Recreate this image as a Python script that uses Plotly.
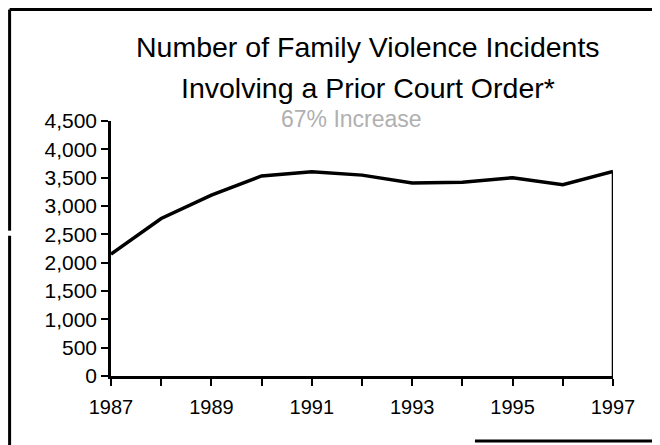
import plotly.graph_objects as go

years = [1987, 1988, 1989, 1990, 1991, 1992, 1993, 1994, 1995, 1996, 1997]
incidents = [2150, 2780, 3190, 3530, 3605, 3545, 3405, 3420, 3500, 3375, 3610]
year_labels = [str(y) if y % 2 == 1 else "" for y in years]
y_ticks = [0, 500, 1000, 1500, 2000, 2500, 3000, 3500, 4000, 4500]

title_1 = "Number of Family Violence Incidents"
title_2 = "Involving a Prior Court Order*"
subtitle = "67% Increase"

font = "Liberation Sans, Arial, sans-serif"

fig = go.Figure()
fig.add_trace(go.Scatter(x=years, y=incidents, mode="lines",
                         line=dict(color="black", width=3.5), showlegend=False))

# right edge of the area, from the last point down to the axis
fig.add_shape(type="line", xref="x", yref="y", x0=years[-1], x1=years[-1],
              y0=0, y1=incidents[-1], line=dict(color="black", width=2.5))

fig.update_xaxes(range=[years[0], years[-1]], tickvals=years, ticktext=year_labels,
                 showline=True, linecolor="black", linewidth=2.5, ticks="outside",
                 ticklen=7, tickwidth=2, tickcolor="black", showgrid=False,
                 zeroline=False, ticklabelstandoff=4,
                 tickfont=dict(size=20, color="black", family=font))
fig.update_yaxes(range=[0, 4500], tickvals=y_ticks, tickformat=",",
                 showline=True, linecolor="black", linewidth=2.5, ticks="outside",
                 ticklen=7, tickwidth=2, tickcolor="black", showgrid=False,
                 zeroline=False, tickfont=dict(size=21, color="black", family=font))

fig.add_annotation(text=title_1, xref="paper", yref="paper", x=0.512, y=1.0,
                   yshift=74, xanchor="center", yanchor="middle", showarrow=False,
                   font=dict(size=28.5, color="black", family=font))
fig.add_annotation(text=title_2, xref="paper", yref="paper", x=0.512, y=1.0,
                   yshift=33, xanchor="center", yanchor="middle", showarrow=False,
                   font=dict(size=28.5, color="black", family=font))
fig.add_annotation(text=subtitle, xref="paper", yref="paper", x=0.48, y=1.0,
                   yshift=2, xanchor="center", yanchor="middle", showarrow=False,
                   font=dict(size=23, color="#b0b0b0", family=font))

# scanned page frame
frame = dict(color="black", width=3)
fig.add_shape(type="line", xref="paper", yref="paper", x0=-0.202, x1=1.1,
              y0=1.437, y1=1.437, line=frame)
fig.add_shape(type="line", xref="paper", yref="paper", x0=-0.202, x1=-0.202,
              y0=1.437, y1=0.57, line=frame)
fig.add_shape(type="line", xref="paper", yref="paper", x0=-0.202, x1=-0.202,
              y0=0.55, y1=-0.3, line=frame)
fig.add_shape(type="line", xref="paper", yref="paper", x0=0.725, x1=1.1,
              y0=-0.255, y1=-0.255, line=frame)

fig.update_layout(width=652, height=437, margin=dict(l=103, r=47, t=113, b=69),
                  plot_bgcolor="white", paper_bgcolor="white",
                  font=dict(family=font, color="black"))

fig.write_html("out.html")
